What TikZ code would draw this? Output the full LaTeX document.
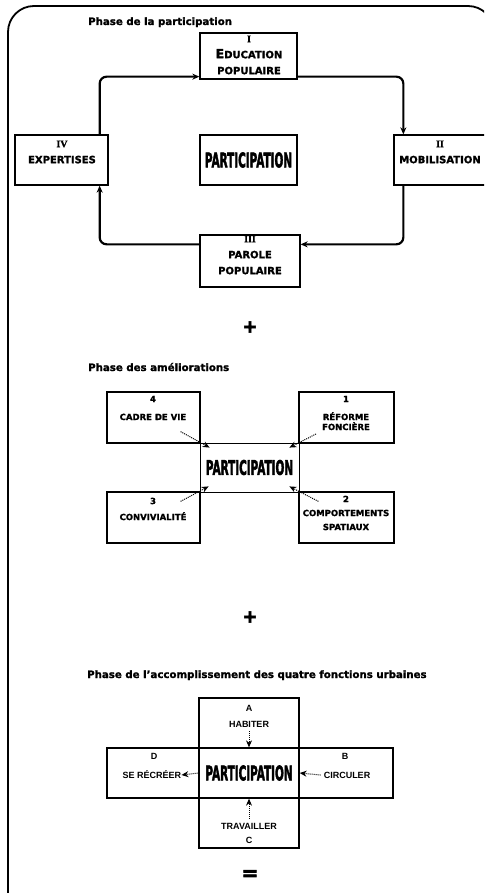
\documentclass[tikz,border=0pt]{standalone}
\usepackage{fontspec}
\setmainfont{DejaVu Sans}
\newfontfamily\heavy{DejaVu Sans Bold}[FakeBold=1.5]
\newfontfamily\heavier{DejaVu Sans Bold}[FakeBold=3]
\newfontfamily\romfont{Liberation Serif Bold}[FakeBold=1.5]
\newfontfamily\armfont{Liberation Sans}
\usetikzlibrary{arrows.meta}
\newcommand{\partword}{\scalebox{0.52}[1]{\heavier\fontsize{20}{20}\selectfont PARTICIPATION}}

\begin{document}
\begin{tikzpicture}[x=1pt, y=-1pt,
  box/.style={draw, line width=1.3pt, inner sep=0pt},
  flow/.style={-{Stealth[length=7pt,width=6pt]}, line width=2.2pt, rounded corners=7pt},
  ptr/.style={-{Stealth[length=7pt,width=6pt]}, densely dotted, line width=1pt},
  head/.style={anchor=base west, inner sep=0pt, font=\heavy\fontsize{10.2}{12}\selectfont},
  lbl/.style={align=center, inner sep=0pt, font=\heavy\fontsize{10}{16}\selectfont},
  lbls/.style={align=center, inner sep=0pt, font=\heavy\fontsize{8.5}{10}\selectfont},
  lblf/.style={align=center, inner sep=0pt, font=\armfont\bfseries\fontsize{9}{14}\selectfont},
  sign/.style={inner sep=0pt, font=\heavier\fontsize{18}{18}\selectfont}
]
\useasboundingbox (0,0) rectangle (484,893);
\clip (0,0) rectangle (484,893);

% Frame
\draw[line width=1.8pt, rounded corners=26pt] (8,900) -- (8,6) -- (494,6) -- (494,900);

% Phase 1: cycle
\node[head] (h1) at (88,25) {Phase de la participation};
\node[box, minimum width=97pt, minimum height=46pt] (ed) at (248.5,56) {};
\node[box, minimum width=93pt, minimum height=50pt] (ex) at (61.5,160) {};
\node[box, minimum width=97pt, minimum height=50pt] (p1) at (248.5,160) {\partword};
\node[box, minimum width=96pt, minimum height=50pt] (mo) at (442,160) {};
\node[box, minimum width=100pt, minimum height=52pt] (pa) at (250,261) {};

\node[lbl] (ed-t) at (249,55) {{\romfont I}\\{\fontsize{12.5}{16}\selectfont E}DUCATION\\POPULAIRE};
\node[lbl] (ex-t) at (62,152) {{\romfont IV}\\EXPERTISES};
\node[lbl] (mo-t) at (440,152) {{\romfont II}\\MOBILISATION};
\node[lbl] (pa-t) at (250,255) {{\romfont III}\\PAROLE\\POPULAIRE};

\draw[flow] ([xshift=-9pt]ex.north east) |- ([yshift=3pt]ed.south west);
\draw[flow] ([yshift=3pt]ed.south east) -| ([xshift=10pt]mo.north west);
\draw[flow] ([xshift=10pt]mo.south west) |- ([yshift=-10pt]pa.north east);
\draw[flow] ([yshift=-10pt]pa.north west) -| ([xshift=-9pt]ex.south east);

\node[sign] (plus1) at (250,327) {+};

% Phase 2: improvements
\node[head] (h2) at (88,371) {Phase des améliorations};
\node[box, minimum width=93pt, minimum height=51pt] (cv) at (153.5,417.5) {};
\node[box, line width=2pt, minimum width=95pt, minimum height=51pt] (rf) at (346.5,417.5) {};
\node[box, line width=0.8pt, minimum width=99pt, minimum height=49pt] (p2) at (249.5,467.5) {\partword};
\node[box, minimum width=93pt, minimum height=51pt] (cn) at (153.5,517.5) {};
\node[box, minimum width=95pt, minimum height=51pt] (cp) at (346.5,517.5) {};

\node[lbls] (cv-t) at (153,408) {4\\[8pt]CADRE DE VIE};
\node[lbls] (rf-t) at (346,413) {1\\[8pt]RÉFORME\\FONCIÈRE};
\node[lbls] (cn-t) at (153,509) {3\\[6pt]CONVIVIALITÉ};
\node[lbls] (cp-t) at (346,513) {2\\[4pt]COMPORTEMENTS\\[4pt]SPATIAUX};

\draw[ptr] ([xshift=-20pt,yshift=12pt]cv.south east) -- ([xshift=10pt,yshift=-5pt]p2.north west);
\draw[ptr] ([xshift=18pt,yshift=10pt]rf.south west) -- ([xshift=-10pt,yshift=-5pt]p2.north east);
\draw[ptr] ([xshift=-20pt,yshift=-10pt]cn.north east) -- ([xshift=9pt,yshift=6pt]p2.south west);
\draw[ptr] ([xshift=20pt,yshift=-10pt]cp.north west) -- ([xshift=-10pt,yshift=6pt]p2.south east);

\node[sign] (plus2) at (250,617) {+};

% Phase 3: four urban functions
\node[head] (h3) at (87,678) {Phase de l’accomplissement des quatre fonctions urbaines};
\node[box, minimum width=100pt, minimum height=50pt] (hab) at (249,723) {};
\node[box, minimum width=100pt, minimum height=50pt] (cen) at (249,773) {\partword};
\node[box, minimum width=92pt, minimum height=50pt] (rec) at (153,773) {};
\node[box, minimum width=94pt, minimum height=50pt] (cir) at (346,773) {};
\node[box, minimum width=100pt, minimum height=50pt] (tra) at (249,823) {};

\node[lblf] (hab-t) at (249,716) {A\\[2pt]HABITER};
\node[lblf] (rec-n) at (154,756) {D};
\node[lblf] (rec-t) at (152,775) {SE RÉCRÉER};
\node[lblf] (cir-n) at (345,756) {B};
\node[lblf] (cir-t) at (347,775) {CIRCULER};
\node[lblf] (tra-t) at (249,833) {TRAVAILLER\\C};

\draw[ptr] ([yshift=-4pt]hab-t.south) -- (cen.north);
\draw[ptr] (cen.west) -- (rec-t.east);
\draw[ptr] ([xshift=-3pt]cir-t.west) -- (cen.east);
\draw[ptr] ([yshift=4pt]tra-t.north) -- (cen.south);

\node[sign, font=\heavier\fontsize{20}{20}\selectfont] (eq) at (250,875) {=};
\end{tikzpicture}
\end{document}
